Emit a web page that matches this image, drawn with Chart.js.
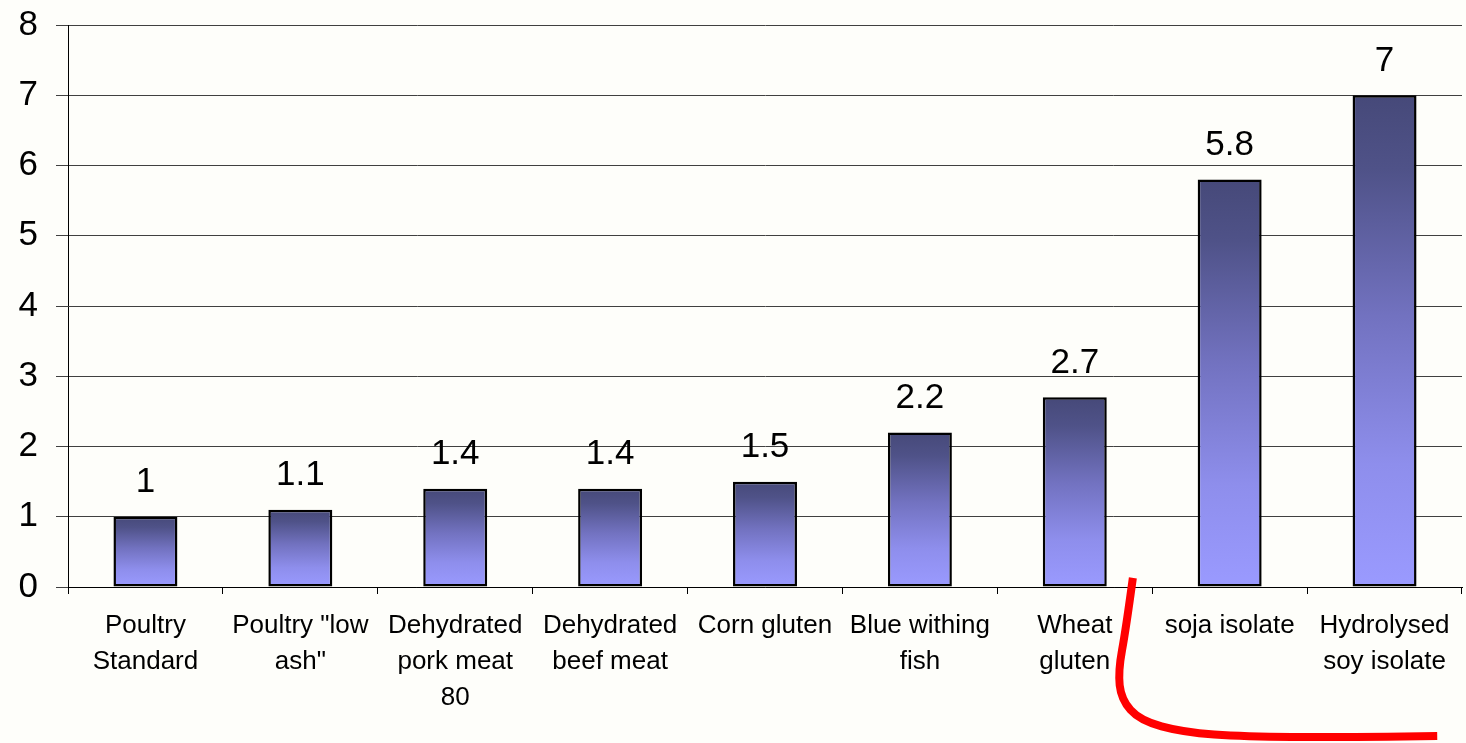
<!DOCTYPE html>
<html>
<head>
<meta charset="utf-8">
<script src="https://cdn.jsdelivr.net/npm/chart.js@4/dist/chart.umd.min.js"></script>
<style>
  html, body { margin: 0; padding: 0; background: #FEFEFA; }
  #wrap { width: 1466px; height: 743px; position: relative; }
</style>
</head>
<body>
<div id="wrap"><canvas id="c" width="1466" height="743"></canvas></div>
<script>
// Product categories (multi-line labels) and their values
const categories = [
  ["Poultry", "Standard"],
  ["Poultry \"low", "ash\""],
  ["Dehydrated", "pork meat", "80"],
  ["Dehydrated", "beef meat"],
  "Corn gluten",
  ["Blue withing", "fish"],
  ["Wheat", "gluten"],
  "soja isolate",
  ["Hydrolysed", "soy isolate"]
];
const values = [1, 1.1, 1.4, 1.4, 1.5, 2.2, 2.7, 5.8, 7];
const yTicks = [0, 1, 2, 3, 4, 5, 6, 7, 8];

// Hand-drawn red mark, expressed in axis units (category index, value)
const markerPath = [
  [6.375, 0.13], [6.33, -0.6], [6.28, -1.2], [6.30, -1.6],
  [6.42, -1.9], [6.70, -2.07], [7.10, -2.13], [7.70, -2.14], [8.34, -2.12]
];

const FONT = "'Liberation Sans', Arial, sans-serif";

function barGradient(ctx) {
  const chart = ctx.chart;
  const area = chart.chartArea;
  if (!area || !chart.scales.y) return '#7777CC';
  const y = chart.scales.y;
  const top = y.getPixelForValue(ctx.raw);
  const base = y.getPixelForValue(0);
  const g = chart.ctx.createLinearGradient(0, top, 0, base);
  g.addColorStop(0, '#464979');
  g.addColorStop(0.15, '#4F5288');
  g.addColorStop(0.45, '#7272C0');
  g.addColorStop(0.75, '#8E8EEC');
  g.addColorStop(1, '#9A9AFF');
  return g;
}

const valueLabels = {
  id: 'valueLabels',
  afterDatasetsDraw(chart) {
    const c = chart.ctx;
    const meta = chart.getDatasetMeta(0);
    c.save();
    c.font = '35px ' + FONT;
    c.fillStyle = '#000';
    c.textAlign = 'center';
    c.textBaseline = 'middle';
    meta.data.forEach((bar, i) => {
      c.fillText(String(values[i]), bar.x, bar.y - 34);
    });
    c.restore();
  }
};

const redMarker = {
  id: 'redMarker',
  afterDraw(chart) {
    const xs = chart.scales.x, ys = chart.scales.y;
    const pts = markerPath.map(p => [xs.getPixelForValue(p[0]), ys.getPixelForValue(p[1])]);
    const c = chart.ctx;
    c.save();
    c.strokeStyle = '#FF0000';
    c.lineWidth = 8;
    c.lineCap = 'butt';
    c.lineJoin = 'round';
    c.beginPath();
    c.moveTo(pts[0][0], pts[0][1]);
    for (let i = 1; i < pts.length - 1; i++) {
      const mx = (pts[i][0] + pts[i + 1][0]) / 2;
      const my = (pts[i][1] + pts[i + 1][1]) / 2;
      c.quadraticCurveTo(pts[i][0], pts[i][1], mx, my);
    }
    const last = pts[pts.length - 1];
    c.lineTo(last[0], last[1]);
    c.stroke();
    c.restore();
  }
};

new Chart(document.getElementById('c'), {
  type: 'bar',
  data: {
    labels: categories,
    datasets: [{
      data: values,
      backgroundColor: barGradient,
      borderColor: '#000000',
      borderWidth: 2.5,
      borderSkipped: false,
      barPercentage: 0.413,
      categoryPercentage: 1.0
    }]
  },
  options: {
    responsive: false,
    animation: false,
    layout: { padding: { top: 25, right: 4, bottom: 0, left: 0 } },
    plugins: { legend: { display: false }, tooltip: { enabled: false } },
    scales: {
      x: {
        offset: true,
        grid: { display: true, drawOnChartArea: false, drawTicks: true, tickLength: 7, offset: true, color: '#000' },
        border: { display: true, color: '#000', width: 1 },
        ticks: {
          color: '#000',
          font: { family: FONT, size: 26, lineHeight: 1.385 },
          padding: 14,
          maxRotation: 0,
          autoSkip: false
        },
        afterFit(scale) { scale.height = 156; scale.paddingLeft = 0; scale.paddingRight = 0; }
      },
      y: {
        min: 0,
        max: 8,
        afterBuildTicks(scale) { scale.ticks = yTicks.map(v => ({ value: v })); },
        grid: { color: '#404040', lineWidth: 1, tickLength: 12, drawTicks: true },
        border: { display: true, color: '#000', width: 1 },
        ticks: {
          color: '#000',
          font: { family: FONT, size: 35 },
          padding: 18
        },
        afterFit(scale) { scale.width = 68; scale.paddingTop = 0; scale.paddingBottom = 0; }
      }
    }
  },
  plugins: [valueLabels, redMarker]
});
</script>
</body>
</html>
